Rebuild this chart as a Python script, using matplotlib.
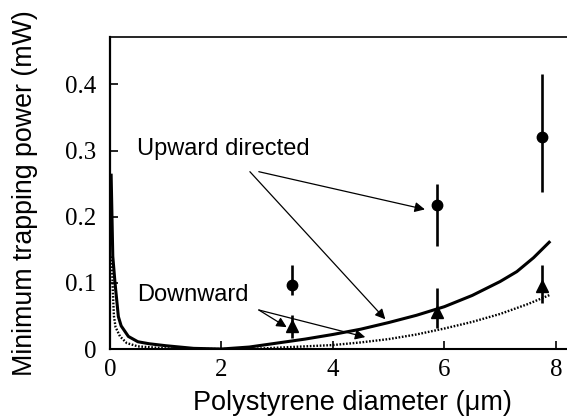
import numpy as np
import matplotlib.pyplot as plt

# Measured minimum trapping power for polystyrene beads
diam = [3.27, 5.87, 7.76]
up_power = [0.097, 0.217, 0.321]
up_lo = [0.082, 0.156, 0.238]
up_hi = [0.127, 0.250, 0.415]
down_power = [0.035, 0.056, 0.095]
down_lo = [0.017, 0.032, 0.070]
down_hi = [0.051, 0.092, 0.127]

# Calculated curves (upward = solid, downward = dotted)
calc_up_x = [0.02, 0.05, 0.09, 0.15, 0.2, 0.33, 0.5, 0.7, 1.0, 1.5, 2.0,
             2.5, 3.0, 3.5, 4.0, 4.5, 5.0, 5.5, 6.0, 6.5, 7.0, 7.3, 7.6, 7.9]
calc_up_y = [0.265, 0.14, 0.10, 0.049, 0.035, 0.019, 0.011, 0.008, 0.005,
             0.001, 0.0, 0.003, 0.009, 0.015, 0.022, 0.030, 0.040, 0.051, 0.064,
             0.081, 0.102, 0.117, 0.138, 0.163]
calc_down_x = [0.03, 0.05, 0.07, 0.1, 0.18, 0.3, 0.5, 1.0, 1.5, 2.5, 3.0, 3.5, 4.0,
               4.5, 5.0, 5.5, 6.0, 6.5, 7.0, 7.5, 7.9]
calc_down_y = [0.14, 0.09, 0.05, 0.033, 0.019, 0.009, 0.004, 0.001, 0.0, 0.0, 0.002,
               0.004, 0.006, 0.010, 0.015, 0.022, 0.031, 0.041, 0.053, 0.068, 0.082]

serif = ['Liberation Serif', 'DejaVu Serif']
sans = ['Liberation Sans', 'DejaVu Sans']

fig = plt.figure(figsize=(5.67, 4.2), dpi=100)
ax = fig.add_axes([0.194, 0.169, 0.806, 0.7436])

ax.plot(calc_up_x, calc_up_y, color='black', lw=2.2, solid_capstyle='butt')
ax.plot(calc_down_x, calc_down_y, color='black', lw=1.7, linestyle=(0, (0.7, 0.7)))

up = np.array(up_power)
down = np.array(down_power)
ax.errorbar(diam, up, yerr=[up - np.array(up_lo), np.array(up_hi) - up],
            fmt='o', color='black', ms=7.5, elinewidth=1.9, capsize=0)
ax.errorbar(diam, down, yerr=[down - np.array(down_lo), np.array(down_hi) - down],
            fmt='^', color='black', ms=8.5, elinewidth=1.9, capsize=0)

arrow = dict(arrowstyle='-|>', color='black', lw=0.9, mutation_scale=15,
             shrinkA=0, shrinkB=0)
ax.text(0.49, 0.302, 'Upward directed', fontsize=17, family=sans, va='center')
ax.annotate('', xy=(5.65, 0.211), xytext=(2.67, 0.268), arrowprops=arrow)
ax.annotate('', xy=(4.94, 0.045), xytext=(2.51, 0.268), arrowprops=arrow)
ax.text(0.49, 0.082, 'Downward', fontsize=17, family=sans, va='center')
ax.annotate('', xy=(3.17, 0.033), xytext=(2.67, 0.059), arrowprops=arrow)
ax.annotate('', xy=(4.58, 0.018), xytext=(2.67, 0.059), arrowprops=arrow)

ax.set_xlim(0, 8.2)
ax.set_ylim(0, 0.472)
ax.set_xticks([0, 2, 4, 6, 8])
ax.set_xticklabels(['0', '2', '4', '6', '8'])
ax.set_yticks([0, 0.1, 0.2, 0.3, 0.4])
ax.set_yticklabels(['0', '0.1', '0.2', '0.3', '0.4'])
ax.tick_params(direction='in', length=6, width=1.2)
ax.tick_params(axis='x', pad=7)
ax.tick_params(axis='y', pad=10)
for lab in ax.get_xticklabels() + ax.get_yticklabels():
    lab.set_family(serif)
    lab.set_fontsize(18)

ax.spines['right'].set_visible(False)
ax.spines['left'].set_linewidth(1.6)
ax.spines['bottom'].set_linewidth(1.5)
ax.spines['top'].set_linewidth(1.2)

ax.set_xlabel('Polystyrene diameter (\u03bcm)', fontsize=19.5, family=sans)
ax.set_ylabel('Minimum trapping power (mW)', fontsize=19.3, family=sans)
ax.xaxis.set_label_coords(0.53, -0.173)
ax.xaxis.label.set_va('center')
ax.yaxis.set_label_coords(-0.186, 0.498)
ax.yaxis.label.set_va('center')

fig.savefig('out.png', dpi=100)
